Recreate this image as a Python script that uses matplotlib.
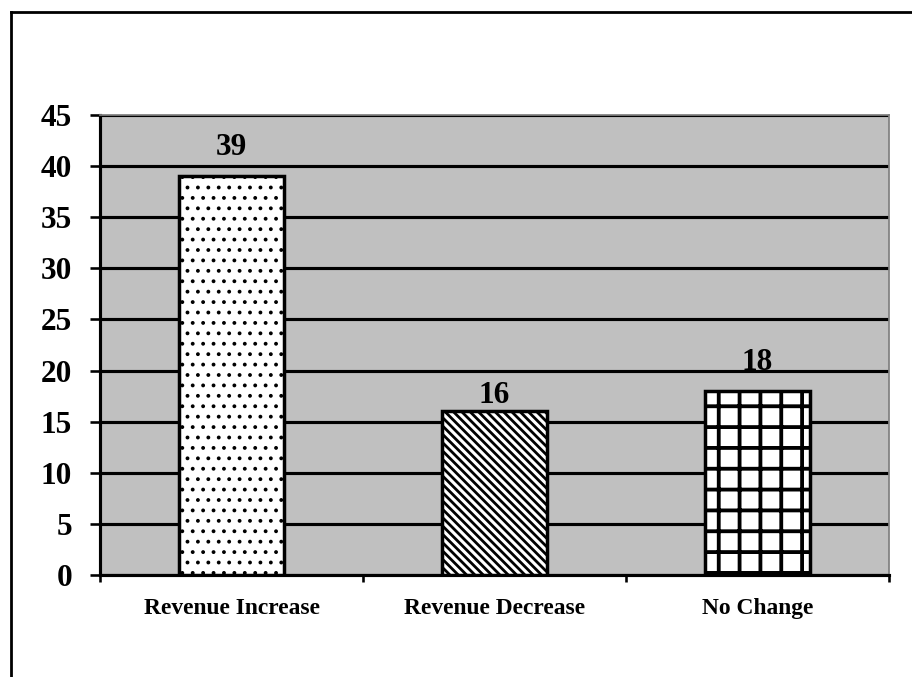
import matplotlib
matplotlib.use("Agg")
import matplotlib.pyplot as plt
from matplotlib.lines import Line2D

categories = ["Revenue Increase", "Revenue Decrease", "No Change"]
values = [39, 16, 18]
hatches = ["..", "\\\\\\\\\\", "+"]
hatch_widths = [1.0, 1.6, 2.2]
label_offsets = [8, 1, 8]
yticks = [0, 5, 10, 15, 20, 25, 30, 35, 40, 45]

DPI = 125
plt.rcParams['font.family'] = ['Liberation Serif', 'DejaVu Serif']
plt.rcParams['font.weight'] = 'bold'
plt.rcParams['hatch.color'] = 'black'

fig = plt.figure(figsize=(912 / DPI, 677 / DPI), dpi=DPI)
fig.patch.set_facecolor('white')
ax = fig.add_axes([100 / 912, 1 - 575 / 677, 789 / 912, 460 / 677])
ax.set_facecolor('#C0C0C0')

x = list(range(len(categories)))
for i, (xi, v) in enumerate(zip(x, values)):
    with plt.rc_context({'hatch.linewidth': hatch_widths[i]}):
        ax.bar(xi, v, width=0.40, color='white', edgecolor='black',
               linewidth=2.0, hatch=hatches[i], zorder=3)
    ax.annotate(str(v), (xi, v), xytext=(0, label_offsets[i]), textcoords='offset points',
                ha='center', va='bottom', fontsize=18, fontweight='bold', zorder=4)

ax.set_xlim(-0.5, 2.5)
ax.set_ylim(0, 45)
ax.set_yticks(yticks)
ax.set_yticklabels([str(t) for t in yticks], fontsize=18, fontweight='bold')
ax.yaxis.grid(True, color='black', linewidth=1.8, zorder=1)
ax.set_axisbelow(True)

ax.set_xticks([-0.5, 0.5, 1.5, 2.5])
ax.set_xticklabels([])
ax.set_xticks(x, minor=True)
ax.set_xticklabels(categories, minor=True, fontsize=13.5, fontweight='bold')
ax.tick_params(axis='x', which='minor', length=0, pad=13.5)
ax.tick_params(axis='x', which='major', length=4, width=1.5, direction='out')
ax.tick_params(axis='y', length=6, width=1.5, pad=10)

for s in ['left', 'bottom']:
    ax.spines[s].set_color('black')
    ax.spines[s].set_linewidth(1.8)
for s in ['top', 'right']:
    ax.spines[s].set_color('#808080')
    ax.spines[s].set_linewidth(1.0)

# outer border (left and top visible)
fig.add_artist(Line2D([10.5 / 912, 10.5 / 912], [1 - 12 / 677, -0.1], transform=fig.transFigure,
                      color='black', linewidth=1.6))
fig.add_artist(Line2D([10.5 / 912, 1.1], [1 - 12 / 677, 1 - 12 / 677], transform=fig.transFigure,
                      color='black', linewidth=1.6))

fig.savefig("out.png", dpi=DPI)
